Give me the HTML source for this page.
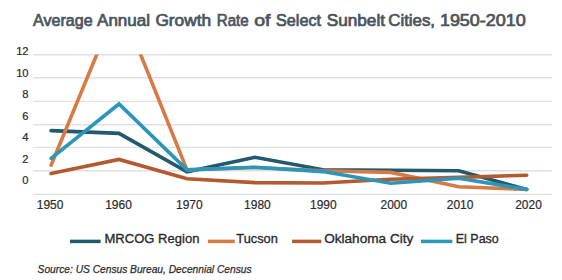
<!DOCTYPE html>
<html><head><meta charset="utf-8"><style>
html,body{margin:0;padding:0;background:#fff;width:562px;height:280px;overflow:hidden}
svg{display:block;font-family:"Liberation Sans",sans-serif}
</style></head><body>
<svg width="562" height="280" viewBox="0 0 562 280">
<rect width="562" height="280" fill="#ffffff"/>
<g font-weight="normal" font-size="16" fill="#4a545d" stroke="#4a545d" stroke-width="0.7">
<text x="33.00" y="25.8" textLength="59.60" lengthAdjust="spacingAndGlyphs">Average</text>
<text x="97.10" y="25.8" textLength="52.90" lengthAdjust="spacingAndGlyphs">Annual</text>
<text x="155.40" y="25.8" textLength="55.80" lengthAdjust="spacingAndGlyphs">Growth</text>
<text x="216.80" y="25.8" textLength="31.90" lengthAdjust="spacingAndGlyphs">Rate</text>
<text x="254.20" y="25.8" textLength="16.20" lengthAdjust="spacingAndGlyphs">of</text>
<text x="276.10" y="25.8" textLength="44.90" lengthAdjust="spacingAndGlyphs">Select</text>
<text x="326.70" y="25.8" textLength="58.30" lengthAdjust="spacingAndGlyphs">Sunbelt</text>
<text x="388.30" y="25.8" textLength="46.70" lengthAdjust="spacingAndGlyphs">Cities,</text>
<text x="439.90" y="25.8" textLength="85.90" lengthAdjust="spacingAndGlyphs">1950-2010</text>
</g>
<line x1="33.2" y1="54.75" x2="552" y2="54.75" stroke="#e0e0e0" stroke-width="1.4"/>
<line x1="33.2" y1="77.75" x2="552" y2="77.75" stroke="#e0e0e0" stroke-width="1.4"/>
<line x1="33.2" y1="101.40" x2="552" y2="101.40" stroke="#e0e0e0" stroke-width="1.4"/>
<line x1="33.2" y1="124.75" x2="552" y2="124.75" stroke="#e0e0e0" stroke-width="1.4"/>
<line x1="33.2" y1="147.40" x2="552" y2="147.40" stroke="#e0e0e0" stroke-width="1.4"/>
<line x1="33.2" y1="170.75" x2="552" y2="170.75" stroke="#e0e0e0" stroke-width="1.4"/>
<line x1="33.2" y1="194.40" x2="552" y2="194.40" stroke="#e0e0e0" stroke-width="1.4"/>
<text x="28.6" y="55" font-size="11.2" fill="#2b2b2b" stroke="#2b2b2b" stroke-width="0.2" text-anchor="end">12</text>
<text x="28.6" y="77" font-size="11.2" fill="#2b2b2b" stroke="#2b2b2b" stroke-width="0.2" text-anchor="end">10</text>
<text x="28.6" y="98" font-size="11.2" fill="#2b2b2b" stroke="#2b2b2b" stroke-width="0.2" text-anchor="end">8</text>
<text x="28.6" y="120" font-size="11.2" fill="#2b2b2b" stroke="#2b2b2b" stroke-width="0.2" text-anchor="end">6</text>
<text x="28.6" y="141" font-size="11.2" fill="#2b2b2b" stroke="#2b2b2b" stroke-width="0.2" text-anchor="end">4</text>
<text x="28.6" y="163" font-size="11.2" fill="#2b2b2b" stroke="#2b2b2b" stroke-width="0.2" text-anchor="end">2</text>
<text x="28.6" y="184" font-size="11.2" fill="#2b2b2b" stroke="#2b2b2b" stroke-width="0.2" text-anchor="end">0</text>
<text x="36.80" y="209" font-size="11.9" fill="#2b2b2b" stroke="#2b2b2b" stroke-width="0.2" textLength="26.6" lengthAdjust="spacingAndGlyphs">1950</text>
<text x="105.20" y="209" font-size="11.9" fill="#2b2b2b" stroke="#2b2b2b" stroke-width="0.2" textLength="26.6" lengthAdjust="spacingAndGlyphs">1960</text>
<text x="176.00" y="209" font-size="11.9" fill="#2b2b2b" stroke="#2b2b2b" stroke-width="0.2" textLength="26.6" lengthAdjust="spacingAndGlyphs">1970</text>
<text x="244.10" y="209" font-size="11.9" fill="#2b2b2b" stroke="#2b2b2b" stroke-width="0.2" textLength="26.6" lengthAdjust="spacingAndGlyphs">1980</text>
<text x="310.00" y="209" font-size="11.9" fill="#2b2b2b" stroke="#2b2b2b" stroke-width="0.2" textLength="26.6" lengthAdjust="spacingAndGlyphs">1990</text>
<text x="380.50" y="209" font-size="11.9" fill="#2b2b2b" stroke="#2b2b2b" stroke-width="0.2" textLength="26.6" lengthAdjust="spacingAndGlyphs">2000</text>
<text x="446.80" y="209" font-size="11.9" fill="#2b2b2b" stroke="#2b2b2b" stroke-width="0.2" textLength="26.6" lengthAdjust="spacingAndGlyphs">2010</text>
<text x="515.20" y="209" font-size="11.9" fill="#2b2b2b" stroke="#2b2b2b" stroke-width="0.2" textLength="26.6" lengthAdjust="spacingAndGlyphs">2020</text>
<clipPath id="pc"><rect x="0" y="54.6" width="562" height="200"/></clipPath>
<g clip-path="url(#pc)" fill="none" stroke-width="3.6" stroke-linejoin="miter" stroke-linecap="round">
<polyline points="51.1,130.6 119.0,133.4 187.0,171.8 254.9,157.3 322.9,169.8 390.8,170.2 458.7,170.8 526.7,189.4" stroke="#22596d"/>
<polyline points="51.1,165.2 119.0,0.7 187.0,169.9 254.9,167.5 322.9,170.8 390.8,172.4 458.7,186.8 526.7,189.4" stroke="#d77b46"/>
<polyline points="51.1,173.6 119.0,159.4 187.0,178.8 254.9,182.6 322.9,183.0 390.8,179.3 458.7,177.4 526.7,175.2" stroke="#b35a31"/>
<polyline points="51.1,158.4 119.0,104.0 187.0,169.8 254.9,167.3 322.9,171.6 390.8,183.3 458.7,178.3 526.7,189.4" stroke="#2a96b9"/>
</g>
<line x1="70" y1="241.4" x2="100.6" y2="241.4" stroke="#22596d" stroke-width="3.5"/>
<text x="104.5" y="242.8" font-size="13.6" fill="#2b2b2b" stroke="#2b2b2b" stroke-width="0.35" textLength="94.9" lengthAdjust="spacingAndGlyphs">MRCOG Region</text>
<line x1="207.9" y1="241.4" x2="234.8" y2="241.4" stroke="#d77b46" stroke-width="3.5"/>
<text x="236.3" y="242.8" font-size="13.6" fill="#2b2b2b" stroke="#2b2b2b" stroke-width="0.35" textLength="41.5" lengthAdjust="spacingAndGlyphs">Tucson</text>
<line x1="292.1" y1="241.4" x2="321.3" y2="241.4" stroke="#b35a31" stroke-width="3.5"/>
<text x="324.2" y="242.8" font-size="13.6" fill="#2b2b2b" stroke="#2b2b2b" stroke-width="0.35" textLength="89.1" lengthAdjust="spacingAndGlyphs">Oklahoma City</text>
<line x1="421.0" y1="241.4" x2="452.4" y2="241.4" stroke="#2a96b9" stroke-width="3.5"/>
<text x="455.8" y="242.8" font-size="13.6" fill="#2b2b2b" stroke="#2b2b2b" stroke-width="0.35" textLength="43.0" lengthAdjust="spacingAndGlyphs">El Paso</text>
<text x="37.6" y="272.6" font-size="11.3" font-style="italic" fill="#2b2b2b" stroke="#2b2b2b" stroke-width="0.25" textLength="214" lengthAdjust="spacingAndGlyphs">Source: US Census Bureau, Decennial Census</text>
</svg>
</body></html>
